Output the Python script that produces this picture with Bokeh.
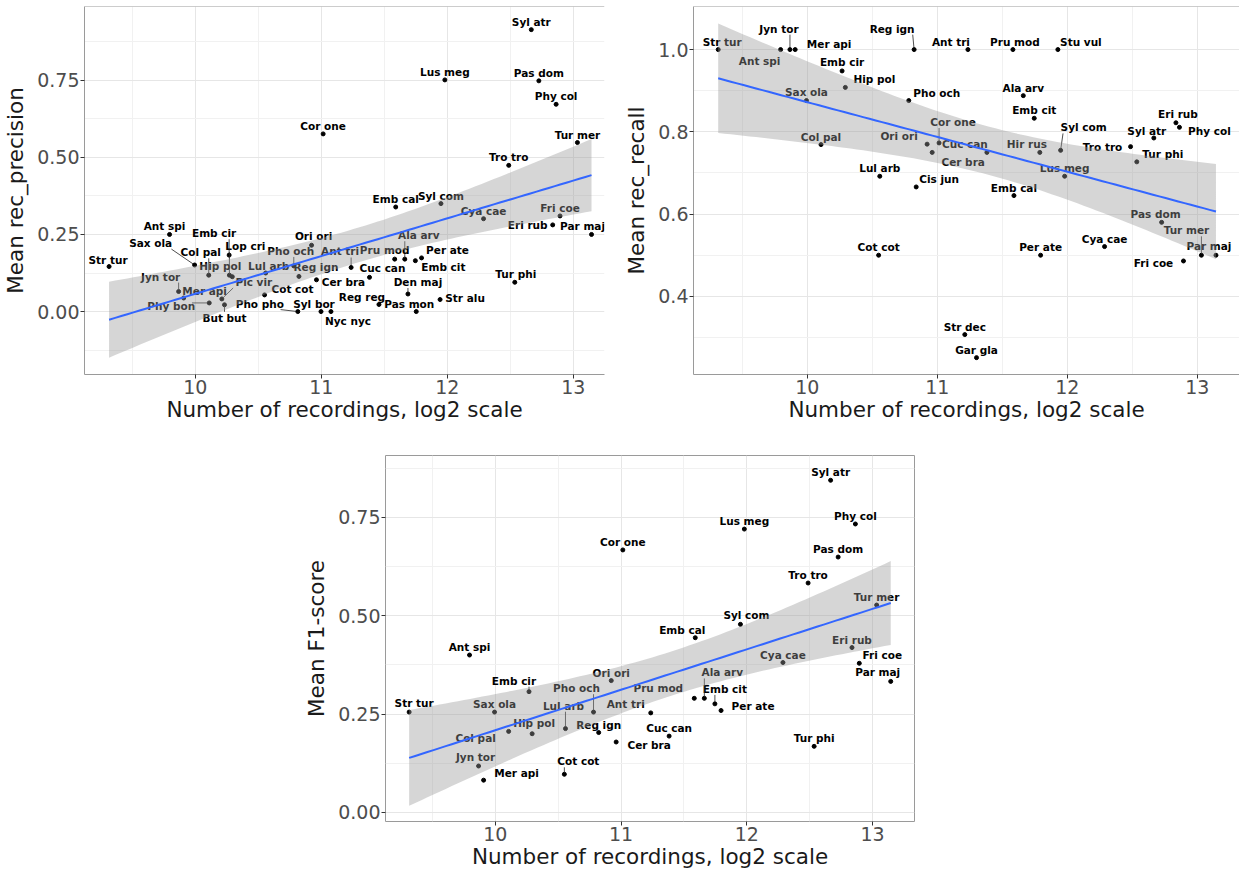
import math
import numpy as np
from bokeh.plotting import figure
from bokeh.layouts import column, row
from bokeh.models import FixedTicker, PrintfTickFormatter, Span, Spacer, ColumnDataSource
from bokeh.core.properties import value
from bokeh.embed import file_html
from bokeh.resources import INLINE

# ---------------- data ----------------
species = ["Str tur", "Ant spi", "Jyn tor", "Mer api", "Sax ola", "Col pal", "Phy bon", "Pic vir",
           "But but", "Lop cri", "Emb cir", "Hip pol", "Cot cot", "Lul arb", "Pho och", "Pho pho",
           "Reg ign", "Cis jun", "Ori ori", "Cer bra", "Syl bor", "Cor one", "Nyc nyc", "Str dec",
           "Ant tri", "Gar gla", "Cuc can", "Reg reg", "Pru mod", "Emb cal", "Ala arv", "Den maj",
           "Emb cit", "Pas mon", "Hir rus", "Per ate", "Stu vul", "Str alu", "Syl com", "Lus meg",
           "Cya cae", "Tro tro", "Tur phi", "Syl atr", "Pas dom", "Eri rub", "Phy col", "Fri coe",
           "Tur mer", "Par maj"]
rec_log2 = [9.315, 9.795, 9.867, 9.907, 9.994, 10.106, 10.11, 10.21,
            10.231, 10.27, 10.268, 10.293, 10.549, 10.558, 10.781, 10.813,
            10.822, 10.838, 10.922, 10.961, 10.997, 11.014, 11.076, 11.212,
            11.236, 11.302, 11.382, 11.457, 11.582, 11.59, 11.662, 11.687,
            11.746, 11.753, 11.789, 11.795, 11.928, 11.942, 11.949, 11.98,
            12.287, 12.487, 12.535, 12.666, 12.726, 12.836, 12.863, 12.894,
            13.032, 13.144]

prec_species = ["Str tur", "Ant spi", "Jyn tor", "Mer api", "Sax ola", "Col pal", "Phy bon", "Pic vir",
                "But but", "Lop cri", "Emb cir", "Hip pol", "Cot cot", "Lul arb", "Pho och", "Pho pho",
                "Reg ign", "Ori ori", "Cer bra", "Syl bor", "Cor one", "Nyc nyc", "Ant tri", "Cuc can",
                "Reg reg", "Pru mod", "Emb cal", "Ala arv", "Den maj", "Emb cit", "Pas mon", "Per ate",
                "Str alu", "Syl com", "Lus meg", "Cya cae", "Tro tro", "Tur phi", "Syl atr", "Pas dom",
                "Eri rub", "Phy col", "Fri coe", "Tur mer", "Par maj"]
prec_values = [0.146, 0.25, 0.065, 0.044, 0.151, 0.118, 0.028, 0.041,
               0.022, 0.118, 0.183, 0.113, 0.054, 0.125, 0.148, 0.0,
               0.114, 0.215, 0.103, 0.0, 0.576, 0.0, 0.143, 0.111,
               0.023, 0.17, 0.339, 0.17, 0.057, 0.165, 0.0, 0.174,
               0.039, 0.35, 0.751, 0.301, 0.474, 0.095, 0.914, 0.748,
               0.281, 0.672, 0.31, 0.548, 0.25]

recall_species = ["Str tur", "Ant spi", "Jyn tor", "Mer api", "Sax ola", "Col pal", "Emb cir", "Hip pol",
                  "Cot cot", "Lul arb", "Pho och", "Reg ign", "Cis jun", "Ori ori", "Cer bra", "Cor one",
                  "Str dec", "Ant tri", "Gar gla", "Cuc can", "Pru mod", "Emb cal", "Ala arv", "Emb cit",
                  "Hir rus", "Per ate", "Stu vul", "Syl com", "Lus meg", "Cya cae", "Tro tro", "Tur phi",
                  "Syl atr", "Pas dom", "Eri rub", "Phy col", "Fri coe", "Tur mer", "Par maj"]
recall_values = [1.0, 1.0, 1.0, 1.0, 0.876, 0.769, 0.948, 0.908,
                 0.5, 0.692, 0.876, 1.0, 0.666, 0.77, 0.75, 0.773,
                 0.307, 1.0, 0.251, 0.75, 1.0, 0.645, 0.888, 0.833,
                 0.75, 0.5, 1.0, 0.755, 0.692, 0.521, 0.764, 0.727,
                 0.785, 0.58, 0.822, 0.811, 0.486, 0.5, 0.5]

f1_species = ["Str tur", "Ant spi", "Jyn tor", "Mer api", "Sax ola", "Col pal", "Emb cir", "Hip pol",
              "Cot cot", "Lul arb", "Pho och", "Reg ign", "Ori ori", "Cer bra", "Cor one", "Ant tri",
              "Cuc can", "Pru mod", "Emb cal", "Ala arv", "Emb cit", "Per ate", "Syl com", "Lus meg",
              "Cya cae", "Tro tro", "Tur phi", "Syl atr", "Pas dom", "Eri rub", "Phy col", "Fri coe",
              "Tur mer", "Par maj"]
f1_values = [0.255, 0.40, 0.118, 0.082, 0.255, 0.206, 0.307, 0.20,
             0.097, 0.213, 0.255, 0.203, 0.335, 0.179, 0.667, 0.253,
             0.194, 0.29, 0.444, 0.29, 0.276, 0.259, 0.478, 0.72,
             0.381, 0.583, 0.168, 0.844, 0.649, 0.419, 0.733, 0.379,
             0.527, 0.333]

x_ticks = [10, 11, 12, 13]
x_minor = [9.5, 10.5, 11.5, 12.5]
y_ticks_pf = [0.0, 0.25, 0.5, 0.75]
y_minor_pf = [-0.125, 0.125, 0.375, 0.625, 0.875]
y_ticks_r = [0.4, 0.6, 0.8, 1.0]
y_minor_r = [0.3, 0.5, 0.7, 0.9]

x_title = "Number of recordings, log2 scale"

# ---------------- label placement (screen px offsets, y down) ----------------
offs_prec = {"Str tur": (-1, -7), "Ant spi": (-5, -8), "Sax ola": (-44, -22), "Col pal": (-8, -23),
             "Emb cir": (-15, -22), "Lop cri": (16, -29), "Hip pol": (-12, -11), "Jyn tor": (-18, -15),
             "Mer api": (21, -7), "Pic vir": (32, -17), "Phy bon": (-38, 3), "But but": (0, 13),
             "Pho pho": (-38, -8), "Cot cot": (28, -6), "Lul arb": (3, -7), "Pho och": (-3, -15),
             "Reg ign": (17, -9), "Ori ori": (2, -9), "Syl bor": (-7, -8), "Nyc nyc": (17, 9),
             "Cer bra": (27, 2), "Ant tri": (-11, -16), "Reg reg": (-17, -7), "Cuc can": (13, -9),
             "Pru mod": (-10, -9), "Ala arv": (14, -24), "Per ate": (26, -8), "Emb cit": (28, 6),
             "Den maj": (10, -12), "Pas mon": (-7, -8), "Str alu": (25, -2), "Tur phi": (1, -8),
             "Eri rub": (-25, 0), "Par maj": (-9, -8)}
lead_prec = {"Sax ola", "Col pal", "Emb cir", "Lop cri", "Jyn tor", "Pic vir", "Phy bon", "But but",
             "Pho pho", "Ant tri", "Ala arv", "Den maj", "Pho och"}

offs_rec = {"Str tur": (4, -8), "Jyn tor": (-11, -21), "Mer api": (34, -6), "Ant spi": (-21, 11),
            "Reg ign": (-22, -21), "Emb cir": (0, -9), "Hip pol": (29, -8), "Sax ola": (0, -9),
            "Pho och": (28, -8), "Ori ori": (-28, -8), "Cis jun": (23, -8), "Ant tri": (-17, -8),
            "Pru mod": (2, -8), "Stu vul": (23, -8), "Cor one": (14, -21), "Cuc can": (-22, -8),
            "Cer bra": (31, 10), "Hir rus": (-13, -8), "Syl com": (23, -23), "Tro tro": (-28, 0),
            "Tur phi": (26, -8), "Syl atr": (-7, -7), "Eri rub": (2, -9), "Phy col": (30, 4),
            "Pas dom": (-6, -8), "Tur mer": (-15, -25), "Par maj": (-7, -9), "Fri coe": (-30, 2)}
lead_rec = {"Jyn tor", "Reg ign", "Cor one", "Syl com", "Tur mer"}

offs_f1 = {"Syl com": (6, -9), "Emb cal": (-13, -8), "Fri coe": (23, -8), "Par maj": (-13, -9),
           "Emb cir": (-15, -11), "Pho och": (-17, -24), "Str tur": (5, -9), "Lul arb": (-2, -23),
           "Ant tri": (-25, -9), "Pru mod": (-36, -10), "Ala arv": (18, -26), "Emb cit": (10, -15),
           "Per ate": (32, -5), "Hip pol": (2, -11), "Col pal": (-33, 7), "Cer bra": (33, 3),
           "Jyn tor": (-3, -9), "Cot cot": (14, -13), "Mer api": (33, -7)}
lead_f1 = {"Emb cir", "Pho och", "Lul arb", "Ala arv", "Emb cit", "Cot cot"}

REC = dict(zip(species, rec_log2))
FONT = "DejaVu Sans"
BORDER = "#9a9a9a"


def t_quantile(df):
    z = 1.959964
    return (z + (z**3 + z) / (4 * df) + (5 * z**5 + 16 * z**3 + 3 * z) / (96 * df**2)
            + (3 * z**7 + 19 * z**5 + 17 * z**3 - 15 * z) / (384 * df**3))


def lm_band(xs, ys, n_grid=80):
    x = np.asarray(xs, float)
    y = np.asarray(ys, float)
    n = len(x)
    b1, b0 = np.polyfit(x, y, 1)
    resid = y - (b0 + b1 * x)
    s = math.sqrt(float(np.sum(resid ** 2)) / (n - 2))
    xbar = x.mean()
    sxx = float(np.sum((x - xbar) ** 2))
    g = np.linspace(x.min(), x.max(), n_grid)
    fit = b0 + b1 * g
    se = s * np.sqrt(1.0 / n + (g - xbar) ** 2 / sxx)
    t = t_quantile(n - 2)
    return g, fit, fit - t * se, fit + t * se


def make_panel(names, vals, ylab, width, height, mb, xr, yr, yt, ym, fmt, offs, leads, full_border):
    left, right, top, bottom = mb
    p = figure(width=width, height=height, x_range=xr, y_range=yr,
               output_backend="svg", toolbar_location=None,
               min_border_left=left, min_border_right=right,
               min_border_top=top, min_border_bottom=bottom,
               background_fill_color="white", border_fill_color="white")
    fw = width - left - right
    fh = height - top - bottom
    sx = fw / (xr[1] - xr[0])
    sy = fh / (yr[1] - yr[0])

    xt = FixedTicker(ticks=x_ticks, minor_ticks=x_minor)
    ytk = FixedTicker(ticks=yt, minor_ticks=ym)
    p.xaxis.ticker = xt
    p.yaxis.ticker = ytk
    p.xgrid.ticker = xt
    p.ygrid.ticker = ytk
    for gr in (p.xgrid, p.ygrid):
        gr.grid_line_color = "#e6e6e6"
        gr.grid_line_width = 1
        gr.minor_grid_line_color = "#f1f1f1"
        gr.minor_grid_line_width = 1
    p.yaxis.formatter = PrintfTickFormatter(format=fmt)
    p.xaxis.formatter = PrintfTickFormatter(format="%d")

    for ax in (p.xaxis, p.yaxis):
        ax.major_label_text_font = FONT
        ax.major_label_text_font_size = "19px"
        ax.major_label_text_color = "#4d4d4d"
        ax.axis_label_text_font = FONT
        ax.axis_label_text_font_size = "21.5px"
        ax.axis_label_text_font_style = "normal"
        ax.axis_label_text_color = "#1a1a1a"
        ax.major_tick_line_color = "#333333"
        ax.major_tick_out = 4
        ax.major_tick_in = 0
        ax.minor_tick_line_color = None
        ax.major_label_standoff = 1
    p.xaxis.axis_label_standoff = 0
    p.yaxis.axis_label_standoff = 6
    p.xaxis.axis_label = x_title
    p.yaxis.axis_label = ylab

    if full_border:
        p.outline_line_color = BORDER
        p.outline_line_width = 1
        p.xaxis.axis_line_color = None
        p.yaxis.axis_line_color = None
    else:
        p.outline_line_color = None
        p.xaxis.axis_line_color = BORDER
        p.yaxis.axis_line_color = BORDER
        p.add_layout(Span(location=yr[1], dimension="width", line_color=BORDER, line_width=1))

    xs = [REC[n] for n in names]
    dxs = [offs.get(n, (0, -8))[0] for n in names]
    dys = [offs.get(n, (0, -8))[1] for n in names]

    # points
    p.scatter(xs, vals, size=4, color="black")

    # labels
    src = ColumnDataSource(dict(x=xs, y=vals, t=names, dx=dxs, dy=dys))
    p.text(x="x", y="y", text="t", x_offset="dx", y_offset="dy", source=src,
           text_font=value(FONT), text_font_style="bold", text_font_size="10.5px",
           text_align="center", text_baseline="middle", text_color="black")

    # leader segments (label box edge -> point)
    x0s, y0s, x1s, y1s = [], [], [], []
    for n, xd, yd, dx, dy in zip(names, xs, vals, dxs, dys):
        if n not in leads:
            continue
        hw = 0.5 * len(n) * 5.6 + 1
        hh = 6.0
        nx = min(max(0.0, dx - hw), dx + hw)
        ny = min(max(0.0, dy - hh), dy + hh)
        L = math.hypot(nx, ny)
        if L < 3:
            continue
        ux, uy = nx / L, ny / L
        x0s.append(xd + 2 * ux / sx)
        y0s.append(yd - 2 * uy / sy)
        x1s.append(xd + nx / sx)
        y1s.append(yd - ny / sy)
    if x0s:
        p.segment(x0s, y0s, x1s, y1s, line_color="#222222", line_width=0.8)

    # linear fit with 95% CI
    g, fit, lo, hi = lm_band(xs, vals)
    p.varea(x=g, y1=lo, y2=hi, fill_color="#999999", fill_alpha=0.4)
    p.line(g, fit, line_color="#3366FF", line_width=2)
    return p


p1 = make_panel(prec_species, prec_values, "Mean rec_precision", 608, 424, (80, 4, 6, 48),
                (9.12, 13.247), (-0.204, 0.989), y_ticks_pf, y_minor_pf, "%.2f",
                offs_prec, lead_prec, False)
p2 = make_panel(recall_species, recall_values, "Mean rec_recall", 631, 424, (85, 0, 6, 48),
                (9.125, 13.325), (0.21, 1.1047), y_ticks_r, y_minor_r, "%.1f",
                offs_rec, lead_rec, False)
p3 = make_panel(f1_species, f1_values, "Mean F1-score", 623, 447, (78, 10, 31, 48),
                (9.127, 13.333), (-0.023, 0.907), y_ticks_pf, y_minor_pf, "%.2f",
                offs_f1, lead_f1, True)

layout = column(row(p1, p2), row(Spacer(width=301, height=447), p3))

with open("out.html", "w") as f:
    f.write(file_html(layout, INLINE))
